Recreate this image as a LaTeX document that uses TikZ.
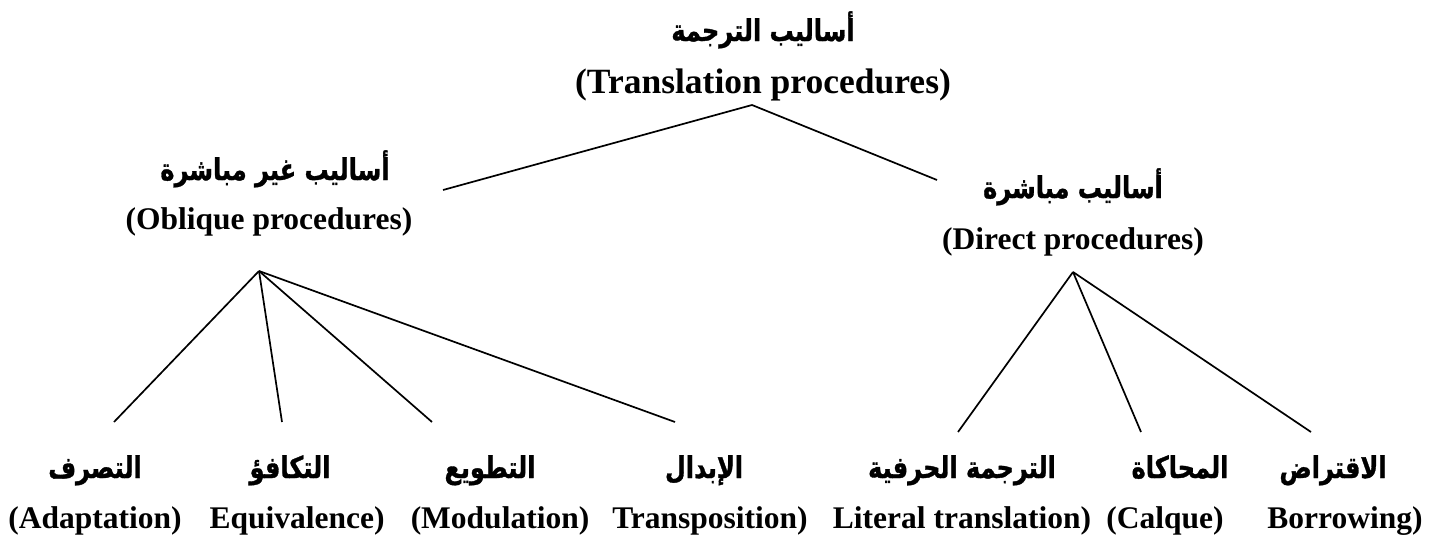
\documentclass[tikz,border=0pt]{standalone}
\usepackage{fontspec}
\usepackage{graphicx}
\setmainfont{Liberation Serif}
\newfontfamily\arabicfont[Script=Arabic, BoldFeatures={FakeBold=1.2}]{DejaVu Sans}
\TeXXeTstate=1
\newcommand{\arb}[1]{\scalebox{0.8}[1]{\beginR #1\endR}}
\tikzset{
  ar/.style={font=\arabicfont\bfseries\fontsize{30}{35}\selectfont, inner sep=0pt, anchor=base},
  en/.style={font=\bfseries\fontsize{31.5}{36}\selectfont, inner sep=0pt, anchor=base},
  entop/.style={font=\bfseries\fontsize{35.5}{40}\selectfont, inner sep=0pt, anchor=base},
  link/.style={line width=1.7pt, draw=black}
}
\begin{document}
\begin{tikzpicture}[x=1pt,y=-1pt]
\path[use as bounding box, fill=white] (0,0) rectangle (1432,546);
% top
\node[ar] (rootA) at (763,41) {\arb{أساليب الترجمة}};
\node[entop] (rootE) at (763,93) {(Translation procedures)};
% oblique
\node[ar] (oblA) at (275,180) {\arb{أساليب غير مباشرة}};
\node[en] (oblE) at (269,229) {(Oblique procedures)};
% direct
\node[ar] (dirA) at (1073,198) {\arb{أساليب مباشرة}};
\node[en] (dirE) at (1073,249) {(Direct procedures)};
% bottom
\node[ar] (adA) at (95,478) {\arb{التصرف}};
\node[en] (adE) at (95,528) {(Adaptation)};
\node[ar] (eqA) at (290,478) {\arb{التكافؤ}};
\node[en] (eqE) at (297,528) {Equivalence)};
\node[ar] (moA) at (490,478) {\arb{التطويع}};
\node[en] (moE) at (500,528) {(Modulation)};
\node[ar] (trA) at (704,478) {\arb{الإبدال}};
\node[en] (trE) at (710,528) {Transposition)};
\node[ar] (liA) at (962,478) {\arb{الترجمة الحرفية}};
\node[en] (liE) at (962,528) {Literal translation)};
\node[ar] (caA) at (1180,478) {\arb{المحاكاة}};
\node[en] (caE) at (1165,528) {(Calque)};
\node[ar] (boA) at (1333,478) {\arb{الاقتراض}};
\node[en] (boE) at (1345,528) {Borrowing)};
% connector points
\coordinate (rootJ) at (752,105);
\coordinate (oblIn) at (443,190);
\coordinate (dirIn) at (937,180);
\coordinate (oblJ) at (259,271);
\coordinate (dirJ) at (1073,272);
\coordinate (adIn) at (114,422);
\coordinate (eqIn) at (282,422);
\coordinate (moIn) at (432,422);
\coordinate (trIn) at (675,422);
\coordinate (liIn) at (958,432);
\coordinate (caIn) at (1141,432);
\coordinate (boIn) at (1311,432);
\draw[link] (oblIn) -- (rootJ) -- (dirIn);
\draw[link] (oblJ) -- (adIn);
\draw[link] (oblJ) -- (eqIn);
\draw[link] (oblJ) -- (moIn);
\draw[link] (oblJ) -- (trIn);
\draw[link] (dirJ) -- (liIn);
\draw[link] (dirJ) -- (caIn);
\draw[link] (dirJ) -- (boIn);
\end{tikzpicture}
\end{document}
